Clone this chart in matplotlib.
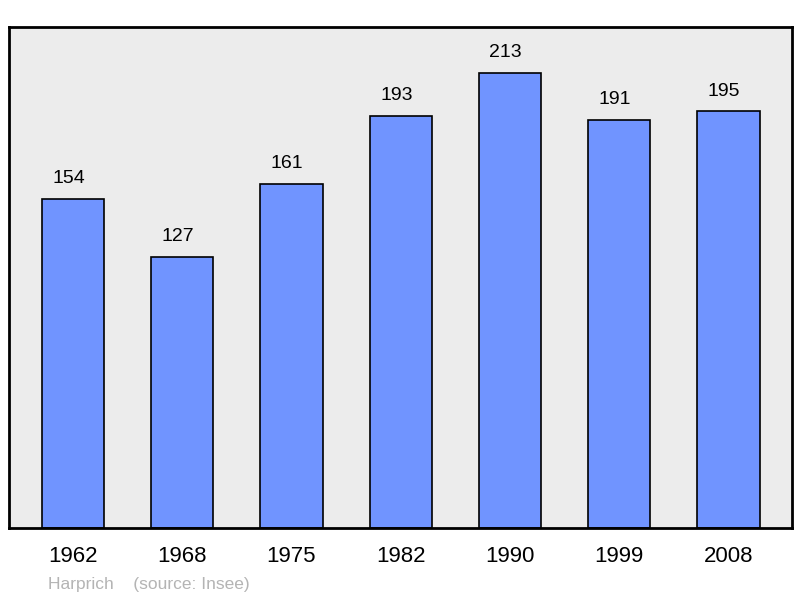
import matplotlib.pyplot as plt

plt.rcParams['font.family'] = ['Liberation Sans', 'DejaVu Sans']

years = ["1962", "1968", "1975", "1982", "1990", "1999", "2008"]
population = [154, 127, 161, 193, 213, 191, 195]

fig = plt.figure(figsize=(8, 5.98), dpi=100)
ax = fig.add_axes([9 / 800, 70 / 598, 783 / 800, 501 / 598])
ax.set_facecolor("#ececec")

x = range(len(years))
ax.bar(x, population, width=0.57, color="#7094ff", edgecolor="black", linewidth=1.2, zorder=2)

# value labels above bars (slightly left of bar centre, as in the original)
for i, v in zip(x, population):
    ax.text(i - 0.04, v + 5.5, str(v), ha="center", va="bottom", fontsize=14)

ax.set_xlim(-0.585, 6.58)
ax.set_ylim(0, 234.5)
ax.set_yticks([])
ax.set_xticks(list(x))
ax.set_xticklabels(years, fontsize=16)
ax.tick_params(axis="x", length=0, pad=13)

for s in ax.spines.values():
    s.set_linewidth(2)
    s.set_color("black")

fig.text(48 / 800, 1 - 584 / 598, "Harprich    (source: Insee)", color="#b4b4b4",
         fontsize=12.5, va="center", ha="left")

fig.savefig("out.png", dpi=100, facecolor="white")
